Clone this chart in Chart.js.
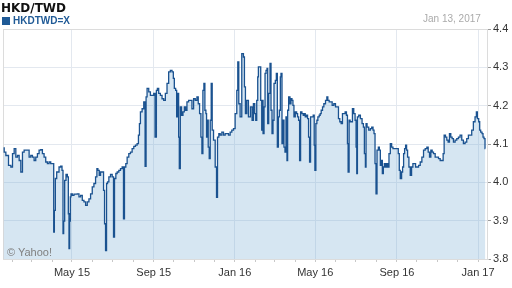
<!DOCTYPE html>
<html>
<head>
<meta charset="utf-8">
<script src="https://cdn.jsdelivr.net/npm/chart.js@4.4.1/dist/chart.umd.min.js"></script>
<style>
body{margin:0;background:#fff;font-family:"Liberation Sans",Arial,sans-serif;}
#wrap{position:relative;width:512px;height:288px;overflow:hidden;}
#c{position:absolute;left:0;top:0;}
.title{position:absolute;left:1px;top:2px;font:bold 12px "DejaVu Sans",sans-serif;line-height:1;color:#111;}
.legend{position:absolute;left:2px;top:16px;font-size:10px;font-weight:bold;line-height:1;color:#1f5a96;}
.legend span{display:inline-block;width:8px;height:8px;background:#1f5a96;margin-right:3px;vertical-align:-1px;}
.date{position:absolute;left:423px;top:14px;font-size:10px;line-height:1;color:#aaa;}
.credit{position:absolute;left:7px;top:247px;font-size:11px;line-height:1;color:#808080;}
</style>
</head>
<body>
<div id="wrap">
<canvas id="c" width="512" height="288"></canvas>
<div class="title">HKD/TWD</div>
<div class="legend"><span></span>HKDTWD=X</div>
<div class="date">Jan 13, 2017</div>
<div class="credit">© Yahoo!</div>
</div>
<script>
// days since 1 Jan 2015
const days = [
17,19,22,27,29,32,34,37,39,42,
44,47,49,54,57,59,62,64,67,69,
72,74,77,79,82,84,87,89,92,93,
94,96,98,99,102,104,106,107,108,110,
112,114,115,116,117,118,119,122,124,127,
129,132,134,137,139,142,144,147,149,152,
154,157,158,160,162,164,167,168,170,171,
173,174,177,179,182,183,185,187,189,192,
194,197,198,200,202,204,207,209,212,214,
217,219,221,222,224,227,229,231,232,234,
237,239,242,244,246,248,249,252,254,257,
259,262,264,267,269,272,273,275,277,278,
280,281,282,284,286,288,290,292,294,297,
299,302,304,307,309,311,313,315,316,318,
319,321,322,323,324,326,327,329,330,332,
334,337,338,340,342,344,347,349,352,354,
357,359,362,364,367,369,370,372,374,377,
379,380,382,384,387,
390,392,394,396,397,399,400,401,403,405,
406,407,408,410,411,413,414,415,417,419,
420,422,423,425,427,428,430,431,433,434,
435,437,438,440,441,443,444,445,447,449,
450,452,453,455,457,459,460,462,463,465,
467,469,470,472,474,475,477,478,480,482,
484,485,486,488,489,491,493,494,496,498,
500,503,504,506,508,510,513,515,518,520,
522,524,526,528,530,532,534,535,536,538,
539,541,543,545,547,548,549,550,553,555,
558,559,561,562,563,565,568,570,572,574,
575,577,578,580,582,583,585,586,588,589,
591,593,594,596,598,600,602,604,606,608,
610,612,613,615,617,618,620,621,623,624,
626,628,630,632,634,636,638,640,643,645,
648,650,653,655,657,659,661,663,665,668,
670,673,675,678,679,681,683,685,687,689,
691,693,695,698,700,703,705,708,710,713,
715,718,720,723,725,728,729,731,733,734,
736,738,739,741,742
];

// HKD/TWD close
const rates = [
4.090,4.079,4.070,4.044,4.040,4.075,4.088,4.066,4.070,4.057,
4.027,4.079,4.084,4.084,4.066,4.070,4.066,4.057,4.066,4.075,
4.084,4.085,4.075,4.066,4.053,4.049,4.053,4.049,4.049,3.870,
3.927,4.010,4.027,4.027,4.040,4.042,4.031,3.866,3.899,4.005,
4.021,4.014,3.918,3.827,3.899,3.962,3.970,3.966,3.969,3.969,
3.970,3.962,3.966,3.953,3.949,3.940,3.949,3.957,3.970,3.988,
3.997,4.014,4.036,4.031,4.018,4.027,4.027,3.979,3.892,3.822,
3.997,4.001,4.014,4.021,4.014,3.857,4.010,4.023,4.027,4.031,
4.036,4.040,3.905,4.040,4.049,4.066,4.075,4.079,4.088,4.094,
4.097,4.101,4.123,4.153,4.184,4.192,4.210,4.042,4.223,4.245,
4.236,4.227,4.227,4.232,4.118,4.240,4.245,4.232,4.227,4.218,
4.214,4.232,4.258,4.288,4.292,4.288,4.271,4.245,4.240,4.171,
4.232,4.118,4.036,4.197,4.175,4.184,4.197,4.188,4.210,4.214,
4.214,4.192,4.218,4.214,4.223,4.205,4.179,4.118,4.075,4.240,
4.258,4.188,4.179,4.118,4.162,4.092,4.062,4.162,4.258,4.136,
4.110,4.040,3.961,4.118,4.127,4.123,4.131,4.123,4.127,4.127,
4.123,4.131,4.136,4.140,4.179,4.240,4.314,4.205,4.171,4.336,
4.327,4.249,4.179,4.214,4.171,
4.197,4.162,4.205,4.179,4.162,4.214,4.275,4.301,4.301,4.214,
4.136,4.214,4.127,4.197,4.284,4.292,4.297,4.153,4.232,4.310,
4.188,4.127,4.162,4.258,4.266,4.284,4.092,4.171,4.188,4.275,
4.284,4.101,4.162,4.092,4.079,4.171,4.057,4.188,4.223,4.205,
4.218,4.214,4.201,4.171,4.184,4.179,4.171,4.162,4.057,4.184,
4.179,4.175,4.179,4.171,4.175,4.166,4.118,4.053,4.171,4.171,
4.175,4.097,4.031,4.153,4.162,4.171,4.175,4.179,4.188,4.197,
4.205,4.214,4.223,4.214,4.210,4.210,4.201,4.205,4.197,4.197,
4.166,4.158,4.153,4.179,4.179,4.184,4.175,4.101,4.027,4.162,
4.158,4.158,4.192,4.179,4.162,4.092,4.023,4.171,4.175,4.166,
4.153,4.144,4.075,4.040,4.153,4.144,4.136,4.140,4.144,4.136,
4.127,4.049,3.970,4.084,4.092,4.084,4.044,4.057,4.023,4.040,
4.049,4.040,4.049,4.040,4.075,4.101,4.092,4.088,4.088,4.088,
4.088,4.075,4.031,4.010,4.027,4.040,4.075,4.088,4.097,4.084,
4.066,4.040,4.018,4.040,4.049,4.049,4.040,4.040,4.044,4.053,
4.066,4.084,4.088,4.092,4.079,4.066,4.084,4.079,4.075,4.066,
4.066,4.062,4.057,4.057,4.075,4.123,4.118,4.110,4.105,4.127,
4.118,4.114,4.105,4.110,4.114,4.118,4.123,4.110,4.101,4.105,
4.114,4.123,4.123,4.136,4.158,4.171,4.184,4.166,4.158,4.136,
4.131,4.127,4.118,4.114,4.088
];

// first day of every month shown on the axis, and the labelled ones
const monthStarts = [31,59,90,120,151,181,212,243,273,304,334,365,396,425,456,486,517,547,578,609,639,670,700,731];
const majorDays = [120,243,365,486,609,731];
const majorLabels = ['May 15','Sep 15','Jan 16','May 16','Sep 16','Jan 17'];
const yTicks = [3.8,3.9,4.0,4.1,4.2,4.3,4.4];

const points = days.map((d,i)=>({x:d,y:rates[i]}));

//draws a thin box round the plot area
const frame = {
  id:'frame',
  beforeDatasetsDraw(chart){
    const a = chart.chartArea, ctx = chart.ctx;
    ctx.save();
    ctx.strokeStyle = '#dcdcdc';
    ctx.lineWidth = 1;
    ctx.strokeRect(a.left+0.5, a.top+0.5, a.right-a.left-1, a.bottom-a.top);
    ctx.restore();
  }
};

new Chart(document.getElementById('c'), {
  type:'line',
  data:{
    datasets:[{
      label:'HKDTWD=X',
      data:points,
      borderColor:'#1a5290',
      borderWidth:1.3,
      backgroundColor:'rgba(118,172,212,0.3)',
      fill:'start',
      pointRadius:0,
      stepped:'middle'
    }]
  },
  options:{
    responsive:false,
    animation:false,
    devicePixelRatio:1,
    layout:{padding:{left:3,top:29,right:0,bottom:0}},
    plugins:{legend:{display:false},tooltip:{enabled:false},title:{display:false}},
    scales:{
      x:{
        type:'linear',
        min:16.2,
        max:746,
        afterBuildTicks(scale){ scale.ticks = monthStarts.map(v=>({value:v})); },
        afterFit(scale){ scale.height = 29; },
        ticks:{
          autoSkip:false,
          maxRotation:0,
          padding:4,
          color:'#333',
          font:{family:'"Liberation Sans", Arial',size:11},
          callback(v){ const k = majorDays.indexOf(v); return k<0 ? '' : majorLabels[k]; }
        },
        grid:{
          color:c=> majorDays.includes(c.tick && c.tick.value) ? '#e3e8ef' : 'rgba(0,0,0,0)',
          tickColor:'#c8c8c8',
          tickLength:3,
          lineWidth:1
        },
        border:{display:true,color:'#d0d0d0'}
      },
      y:{
        position:'right',
        min:3.8,
        max:4.4,
        afterBuildTicks(scale){ scale.ticks = yTicks.map(v=>({value:v})); },
        afterFit(scale){ scale.width = 24; },
        ticks:{
          padding:2,
          color:'#333',
          font:{family:'"Liberation Sans", Arial',size:11},
          callback:v=>v.toFixed(1)
        },
        grid:{color:'#e3e8ef',tickColor:'#999',tickLength:3},
        border:{display:false}
      }
    }
  },
  plugins:[frame]
});
</script>
</body>
</html>
